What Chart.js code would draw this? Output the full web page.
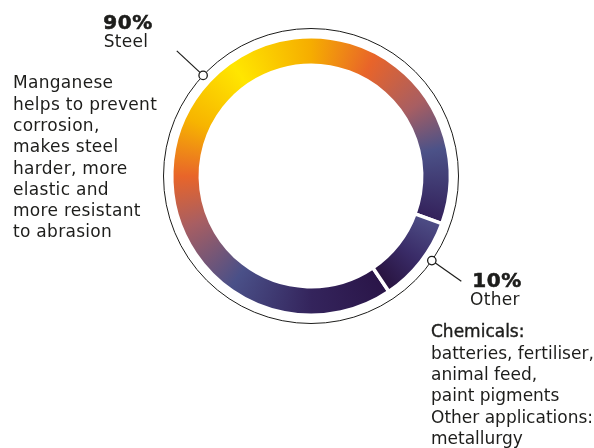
<!DOCTYPE html>
<html>
<head>
<meta charset="utf-8">
<script src="https://cdn.jsdelivr.net/npm/chart.js@4.4.1/dist/chart.umd.min.js"></script>
<style>
  html, body { margin: 0; padding: 0; background: #ffffff; }
  #wrap { width: 594px; height: 448px; }
</style>
</head>
<body>
<div id="wrap"><canvas id="c" width="594" height="448"></canvas></div>
<script>
// ---- data ----
const categories = ['Steel', 'Other'];
const shares = [90, 10];
const shareLabels = ['90%', '10%'];
const steelNote = ['Manganese', 'helps to prevent', 'corrosion,', 'makes steel', 'harder, more', 'elastic and', 'more resistant', 'to abrasion'];
const otherNote = ['Chemicals:', 'batteries, fertiliser,', 'animal feed,', 'paint pigments', 'Other applications:', 'metallurgy'];

// ---- styling ----
const TEXT = '#1d1d1b';
const FONT = '"DejaVu Sans", sans-serif';
const ROTATION = 146;

const steelStops = [
  [0.000, '#2a1548'], [0.094, '#34245c'], [0.194, '#4a5088'], [0.283, '#a85e62'],
  [0.344, '#e8652a'], [0.414, '#f7b400'], [0.497, '#ffe600'], [0.594, '#f6ad00'],
  [0.672, '#e8642a'], [0.750, '#a85e62'], [0.811, '#4c5288'], [0.900, '#33205a'],
  [1.000, '#2a1548']
];
const otherStops = [[0, '#4e4e86'], [0.05, '#3a2c68'], [0.1, '#28133f'], [1, '#28133f']];

function toCanvasAngle(degFromTop) { return (degFromTop - 90) * Math.PI / 180; }

function ringFill(ctx) {
  const chart = ctx.chart;
  const a = chart.chartArea;
  if (!a) return '#444466';
  const cx = (a.left + a.right) / 2, cy = (a.top + a.bottom) / 2;
  const total = shares.reduce((s, v) => s + v, 0);
  let start = ROTATION;
  for (let i = 0; i < ctx.dataIndex; i++) start += shares[i] / total * 360;
  const g = chart.ctx.createConicGradient(toCanvasAngle(start), cx, cy);
  const stops = ctx.dataIndex === 0 ? steelStops : otherStops;
  stops.forEach(([o, c]) => g.addColorStop(o, c));
  return g;
}

const calloutPlugin = {
  id: 'callouts',
  afterDatasetsDraw(chart, args, opts) {
    const meta = chart.getDatasetMeta(0);
    const arc0 = meta.data[0];
    const cx = arc0.x, cy = arc0.y;
    const R = arc0.outerRadius + opts.ringGap;
    const c = chart.ctx;
    c.save();
    c.strokeStyle = TEXT;
    c.lineWidth = 1;
    c.beginPath();
    c.arc(cx, cy, R, 0, Math.PI * 2);
    c.stroke();
    meta.data.forEach((arc, i) => {
      const mid = (arc.startAngle + arc.endAngle) / 2 + opts.nudge[i] * Math.PI / 180;
      const ux = Math.cos(mid), uy = Math.sin(mid);
      const mx = cx + ux * R, my = cy + uy * R;
      c.beginPath();
      c.moveTo(mx, my);
      c.lineTo(mx + ux * opts.lineLength, my + uy * opts.lineLength);
      c.lineWidth = 1.2;
      c.stroke();
      c.beginPath();
      c.arc(mx, my, 4.2, 0, Math.PI * 2);
      c.fillStyle = '#ffffff';
      c.fill();
      c.lineWidth = 1.3;
      c.stroke();
    });
    c.restore();
  },
  afterDraw(chart) {
    const c = chart.ctx;
    c.save();
    c.fillStyle = TEXT;
    c.strokeStyle = TEXT;
    c.textBaseline = 'alphabetic';
    // headline labels
    c.textAlign = 'center';
    c.letterSpacing = '0.5px';
    c.font = 'bold 20px ' + FONT;
    c.lineWidth = 0.6;
    c.fillText(shareLabels[0], 128, 29);
    c.strokeText(shareLabels[0], 128, 29);
    c.fillText(shareLabels[1], 497, 286.5);
    c.strokeText(shareLabels[1], 497, 286.5);
    c.letterSpacing = '0.3px';
    c.font = '17px ' + FONT;
    c.fillText(categories[0], 126, 46.5);
    c.fillText(categories[1], 495, 305);
    // notes
    c.textAlign = 'left';
    steelNote.forEach((t, i) => c.fillText(t, 13, 88.3 + i * 21.3));
    c.letterSpacing = '0px';
    otherNote.forEach((t, i) => {
      const y = 337.3 + i * 21.3;
      c.fillText(t, 431, y);
      if (i === 0) { c.lineWidth = 0.4; c.strokeText(t, 431, y); }
    });
    c.restore();
  }
};

new Chart(document.getElementById('c'), {
  type: 'doughnut',
  data: {
    labels: categories,
    datasets: [{
      data: shares,
      backgroundColor: ringFill,
      borderColor: '#ffffff',
      borderWidth: 3.5,
      hoverOffset: 0
    }]
  },
  options: {
    responsive: false,
    animation: false,
    events: [],
    rotation: ROTATION,
    radius: 139.25,
    cutout: '79.5%',
    layout: { padding: { left: 171, right: 143, top: 36, bottom: 132 } },
    plugins: {
      legend: { display: false },
      tooltip: { enabled: false },
      callouts: { ringGap: 8.25, lineLength: 36, nudge: [5, -3] }
    }
  },
  plugins: [calloutPlugin]
});
</script>
</body>
</html>
